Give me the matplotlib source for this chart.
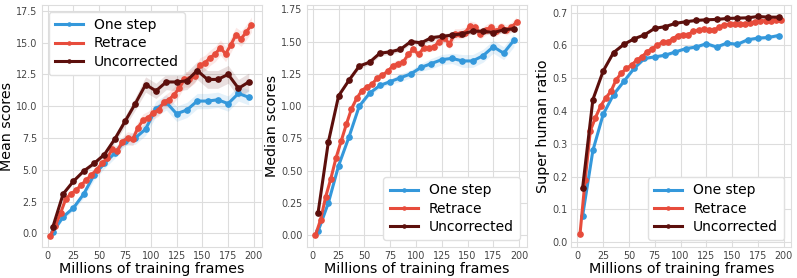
"""Mean / median / super-human ratio curves for three off-policy corrections."""
import matplotlib
matplotlib.use("Agg")
import matplotlib.pyplot as plt
import numpy as np

# x positions (millions of frames)
frames_10 = [5, 15, 25, 35, 45, 55, 65, 75, 85, 95, 105, 115, 125, 135, 145,
             155, 165, 175, 185, 195]
frames_5 = [2.5, 7.5, 12.5, 17.5, 22.5, 27.5, 32.5, 37.5, 42.5, 47.5, 52.5,
            57.5, 62.5, 67.5, 72.5, 77.5, 82.5, 87.5, 92.5, 97.5, 102.5, 107.5,
            112.5, 117.5, 122.5, 127.5, 132.5, 137.5, 142.5, 147.5, 152.5,
            157.5, 162.5, 167.5, 172.5, 177.5, 182.5, 187.5, 192.5, 197.5]

# mean scores
mean_onestep = [0.1, 1.3, 2.0, 3.1, 4.6, 5.5, 6.3, 7.3, 7.5, 8.2, 9.8, 10.3,
                9.4, 9.7, 10.4, 10.4, 10.5, 10.2, 11.0, 10.7]
mean_onestep_sd = [0.1, 0.2, 0.2, 0.3, 0.4, 0.4, 0.4, 0.4, 0.5, 0.5, 0.6, 0.6,
                   0.6, 0.6, 0.6, 0.6, 0.6, 0.6, 0.6, 0.6]
mean_retrace = [-0.2, 0.6, 1.6, 2.7, 3.1, 3.4, 3.8, 4.2, 4.6, 5.0, 5.5, 5.9,
                6.6, 6.5, 7.2, 7.5, 7.4, 8.3, 8.9, 9.1, 9.5, 9.7, 10.3, 10.5,
                10.9, 11.4, 12.1, 12.1, 12.4, 13.2, 13.4, 13.8, 14.1, 14.6,
                14.1, 14.8, 15.6, 15.3, 15.8, 16.4]
mean_retrace_sd = [0.1, 0.1, 0.2, 0.2, 0.2, 0.2, 0.2, 0.3, 0.3, 0.3, 0.3, 0.3,
                   0.4, 0.4, 0.4, 0.5, 0.5, 0.5, 0.5, 0.5, 0.5, 0.5, 0.5, 0.6,
                   0.6, 0.6, 0.6, 0.6, 0.6, 0.6, 0.6, 0.6, 0.6, 0.6, 0.6, 0.6,
                   0.6, 0.6, 0.6, 0.6]
mean_uncorr = [0.5, 3.1, 4.1, 4.9, 5.5, 6.2, 7.4, 8.8, 10.2, 11.7, 11.2, 11.9,
               11.9, 12.0, 12.8, 12.1, 12.1, 12.5, 11.4, 11.9]
mean_uncorr_sd = [0.1, 0.1, 0.1, 0.1, 0.2, 0.2, 0.3, 0.4, 0.5, 0.6, 0.6, 0.6,
                  0.7, 0.7, 0.7, 0.7, 0.7, 0.7, 0.7, 0.7]

# median scores
med_onestep = [0.03, 0.25, 0.54, 0.76, 1.00, 1.10, 1.16, 1.19, 1.22, 1.25,
               1.30, 1.33, 1.36, 1.37, 1.35, 1.35, 1.39, 1.46, 1.41, 1.51]
med_onestep_sd = [0.01, 0.01, 0.01, 0.01, 0.01, 0.02, 0.02, 0.02, 0.03, 0.03,
                  0.03, 0.04, 0.04, 0.04, 0.05, 0.05, 0.05, 0.05, 0.05, 0.05]
med_retrace = [0.00, 0.12, 0.30, 0.44, 0.60, 0.73, 0.86, 0.98, 1.06, 1.12,
               1.15, 1.17, 1.22, 1.24, 1.27, 1.31, 1.33, 1.34, 1.40, 1.44,
               1.40, 1.45, 1.45, 1.46, 1.50, 1.53, 1.48, 1.56, 1.56, 1.57,
               1.62, 1.61, 1.56, 1.59, 1.61, 1.58, 1.61, 1.59, 1.61, 1.65]
med_retrace_sd = [0.01, 0.01, 0.01, 0.01, 0.01, 0.01, 0.01, 0.02, 0.02, 0.02,
                  0.02, 0.02, 0.02, 0.02, 0.02, 0.03, 0.03, 0.03, 0.03, 0.03,
                  0.03, 0.03, 0.03, 0.03, 0.04, 0.04, 0.04, 0.04, 0.04, 0.04,
                  0.04, 0.04, 0.04, 0.04, 0.04, 0.04, 0.04, 0.04, 0.04, 0.04]
med_uncorr = [0.17, 0.72, 1.08, 1.20, 1.31, 1.34, 1.41, 1.42, 1.44, 1.50,
              1.49, 1.53, 1.54, 1.55, 1.56, 1.58, 1.58, 1.57, 1.59, 1.60]
med_uncorr_sd = [0.01, 0.01, 0.01, 0.01, 0.02, 0.02, 0.02, 0.02, 0.02, 0.02,
                 0.02, 0.02, 0.02, 0.02, 0.02, 0.02, 0.02, 0.02, 0.02, 0.02]

# super human ratio
sup_onestep = [0.08, 0.28, 0.39, 0.45, 0.49, 0.53, 0.56, 0.565, 0.57, 0.58,
               0.59, 0.595, 0.605, 0.595, 0.607, 0.603, 0.617, 0.622, 0.624,
               0.63]
sup_onestep_sd = [0.003, 0.004, 0.004, 0.005, 0.005, 0.005, 0.005, 0.005,
                  0.005, 0.005, 0.005, 0.005, 0.006, 0.006, 0.006, 0.006,
                  0.006, 0.006, 0.006, 0.006]
sup_retrace = [0.025, 0.19, 0.34, 0.38, 0.415, 0.44, 0.46, 0.495, 0.515, 0.53,
               0.54, 0.555, 0.565, 0.58, 0.59, 0.60, 0.61, 0.61, 0.62, 0.63,
               0.633, 0.633, 0.643, 0.647, 0.65, 0.648, 0.647, 0.655, 0.663,
               0.665, 0.665, 0.665, 0.665, 0.668, 0.672, 0.675, 0.675, 0.675,
               0.678, 0.678]
sup_retrace_sd = [0.003, 0.004, 0.005, 0.005, 0.005, 0.006, 0.006, 0.007,
                  0.007, 0.008, 0.008, 0.009, 0.010, 0.010, 0.010, 0.010,
                  0.010, 0.009, 0.009, 0.009, 0.008, 0.008, 0.007, 0.007,
                  0.007, 0.007, 0.007, 0.006, 0.006, 0.006, 0.006, 0.006,
                  0.006, 0.006, 0.006, 0.006, 0.006, 0.006, 0.006, 0.006]
sup_uncorr = [0.165, 0.435, 0.522, 0.578, 0.603, 0.62, 0.632, 0.652, 0.657,
              0.667, 0.672, 0.676, 0.678, 0.679, 0.682, 0.683, 0.684, 0.688,
              0.686, 0.686]
sup_uncorr_sd = [0.003, 0.003, 0.003, 0.003, 0.003, 0.003, 0.003, 0.003,
                 0.003, 0.003, 0.003, 0.003, 0.003, 0.003, 0.003, 0.003,
                 0.003, 0.003, 0.003, 0.003]

names = ["One step", "Retrace", "Uncorrected"]
colors = ["#3498db", "#e74c3c", "#5c0f0c"]

panels = [
    ("Mean scores", [mean_onestep, mean_retrace, mean_uncorr],
     [mean_onestep_sd, mean_retrace_sd, mean_uncorr_sd],
     (-1.07, 17.95), [0, 2.5, 5, 7.5, 10, 12.5, 15, 17.5], "%.1f", "upper left"),
    ("Median scores", [med_onestep, med_retrace, med_uncorr],
     [med_onestep_sd, med_retrace_sd, med_uncorr_sd],
     (-0.09, 1.783), [0, 0.25, 0.5, 0.75, 1.0, 1.25, 1.5, 1.75], "%.2f", "lower right"),
    ("Super human ratio", [sup_onestep, sup_retrace, sup_uncorr],
     [sup_onestep_sd, sup_retrace_sd, sup_uncorr_sd],
     (-0.0145, 0.723), [0, 0.1, 0.2, 0.3, 0.4, 0.5, 0.6, 0.7], "%.1f", "lower right"),
]
xs = [frames_10, frames_5, frames_10]

fig = plt.figure(figsize=(7.97, 2.78), dpi=100)
lefts = [0.0523, 0.385, 0.717]
for left, (ylabel, series, sds, ylim, yticks, fmt, loc) in zip(lefts, panels):
    ax = fig.add_axes([left, 0.1115, 0.276, 0.8705])
    for x, y, sd, name, c in zip(xs, series, sds, names, colors):
        y = np.array(y)
        sd = np.array(sd)
        ax.fill_between(x, y - sd, y + sd, color=c, alpha=0.13, lw=0)
        ax.plot(x, y, color=c, lw=2.2, marker="o", ms=3.8, label=name)
    ax.set_xlim(-5.8, 207.5)
    ax.set_ylim(*ylim)
    ax.set_xticks(range(0, 201, 25))
    ax.set_yticks(yticks)
    ax.yaxis.set_major_formatter(matplotlib.ticker.FormatStrFormatter(fmt))
    ax.grid(True, color="#dddddd", lw=0.8)
    ax.set_axisbelow(True)
    for s in ax.spines.values():
        s.set_color("#dddddd")
    ax.tick_params(length=0, labelsize=6.9, colors="#444444", pad=3)
    ax.set_xlabel("Millions of training frames", fontsize=10.3, labelpad=0.3)
    ax.set_ylabel(ylabel, fontsize=10.3, labelpad=1.5)
    leg = ax.legend(loc=loc, fontsize=10, handlelength=2.0, borderpad=0.45,
                    labelspacing=0.3, framealpha=1, edgecolor="#e0e0e0",
                    markerscale=0.6)

fig.savefig("out.png", dpi=100)
